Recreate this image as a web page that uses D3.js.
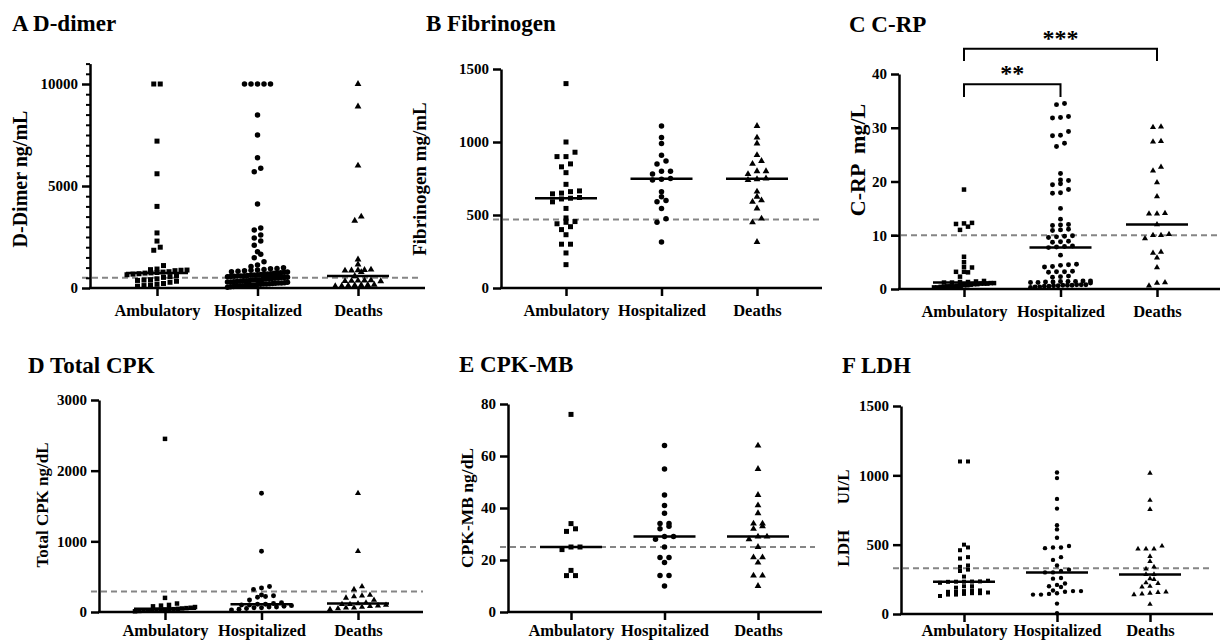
<!DOCTYPE html>
<html>
<head>
<meta charset="utf-8">
<script src="https://cdn.jsdelivr.net/npm/d3@7"></script>
<style>
  body { margin: 0; background: #fff; }
  svg { display: block; }
</style>
</head>
<body>
<svg width="1220" height="643"></svg>
<script>
// groups on every x axis
const groups = ["Ambulatory", "Hospitalized", "Deaths"];

// A D-dimer (ng/mL)
const dDimerAmbulatory = [10000, 10000, 7200, 5600, 4000, 2700, 2300, 2000, 1850, 1100, 930, 900, 880, 870, 850, 800, 780, 760, 740, 730, 700, 680, 650, 600, 560, 520, 450, 410, 390, 370, 330, 280, 220, 180, 150, 120, 90];
const dDimerHospitalized = [10000, 10000, 10000, 10000, 10000, 8480, 7500, 6390, 5870, 5700, 4120, 2940, 2840, 2600, 2450, 2300, 2100, 1780, 1660, 1480, 1290, 1130,
  1050, 990, 960, 940, 910, 880, 870, 850, 820, 800, 790, 770, 750, 730, 720, 700, 690, 670, 660, 650, 640, 620, 610, 600, 590, 590,
  580, 560, 550, 530, 520, 510, 490, 480, 470, 450, 440, 420, 410, 400, 390, 370, 360, 350, 330, 320, 310, 300, 290, 280, 260, 250,
  240, 230, 220, 210, 200, 190, 180, 170, 150, 140, 130, 120, 110, 100, 90, 70, 60, 40];
const dDimerDeaths = [10000, 8900, 6000, 3500, 3300, 1400, 1150, 900, 880, 870, 860, 850, 780, 590, 380, 370, 360, 350, 340, 330, 160, 150, 140, 130, 120, 100, 90];
const dDimerTicks = [0, 5000, 10000];
const dDimerRef = 500;

// B Fibrinogen (mg/mL)
const fibAmbulatory = [1400, 1000, 930, 900, 900, 850, 830, 790, 710, 665, 660, 650, 645, 620, 615, 610, 590, 545, 480, 455, 450, 440, 420, 400, 365, 300, 300, 240, 160];
const fibHospitalized = [1110, 1030, 990, 910, 870, 850, 800, 800, 780, 750, 745, 740, 660, 625, 600, 590, 545, 475, 450, 315];
const fibDeaths = [1110, 1030, 990, 910, 870, 850, 800, 800, 780, 750, 745, 740, 660, 625, 600, 590, 545, 475, 450, 315];
const fibTicks = [0, 500, 1000, 1500];
const fibRef = 470;

// C C-RP (mg/L)
const crpAmbulatory = [18.5, 12.3, 12.2, 12.1, 11.6, 11.0, 6.0, 5.0, 4.1, 4.0, 3.2, 3.2, 3.1, 2.3, 1.5, 1.4, 1.3, 1.3, 1.2, 1.2, 1.1, 1.1, 1.0, 1.0, 1.0,
  0.9, 0.9, 0.8, 0.7, 0.7, 0.6, 0.6, 0.5, 0.5, 0.5, 0.4, 0.4, 0.3, 0.3];
const crpHospitalized = [34.5, 34.3, 32.1, 31.9, 31.8, 29.3, 28.6, 28.5, 27.1, 26.5, 21.5, 20.3, 20.2, 19.6, 19.4, 18.5, 17.9, 17.8, 15.0, 13.0,
  12.0, 11.9, 11.8, 11.1, 11.0, 10.9, 9.9, 9.8, 9.7, 9.6, 8.9, 8.8, 8.7, 8.0, 7.9, 7.8, 7.7, 6.3, 4.6, 4.5, 4.4, 4.2, 4.1,
  3.3, 3.2, 3.2, 3.1, 2.4, 2.3, 2.2, 1.5, 1.5, 1.4, 1.4, 1.4, 1.3, 1.3, 1.2, 1.2, 1.1, 0.8, 0.8, 0.8, 0.7, 0.7, 0.7, 0.6, 0.6, 0.5, 0.5, 0.4, 0.4, 0.3];
const crpDeaths = [30.2, 30.1, 27.5, 27.4, 22.7, 22.0, 19.8, 17.2, 14.1, 14.0, 14.0, 12.0, 10.2, 10.0, 10.0, 9.4, 6.9, 6.7, 5.8, 4.0, 1.2, 1.1, 0.6];
const crpTicks = [0, 10, 20, 30, 40];
const crpRef = 10;
const crpBrackets = [
  { from: "Ambulatory", to: "Deaths", value: 44.7, drop: 42.4, label: "***" },
  { from: "Ambulatory", to: "Hospitalized", value: 38.1, drop: 35.7, label: "**" }
];

// D Total CPK (ng/dL)
const cpkAmbulatory = [2450, 200, 120, 100, 90, 80, 70, 60, 55, 50, 45, 40, 40, 35, 30, 30, 25, 20, 20, 15, 10];
const cpkHospitalized = [1680, 860, 360, 340, 320, 240, 230, 220, 210, 170, 130, 120, 110, 110, 100, 100, 90, 80, 70, 70, 60, 60, 50, 40, 30];
const cpkDeaths = [1680, 860, 360, 320, 240, 230, 220, 200, 170, 130, 120, 110, 110, 100, 90, 80, 70, 60, 60, 50, 40];
const cpkTicks = [0, 1000, 2000, 3000];
const cpkRef = 290;

// E CPK-MB (ng/dL)
const mbAmbulatory = [76, 34, 32, 31, 25, 25, 24, 16, 14, 14];
const mbHospitalized = [64, 55, 45, 41, 38, 34, 34, 33, 32, 29, 29, 28, 25, 21, 21, 19, 14, 14, 10];
const mbDeaths = [64, 55, 45, 41, 38, 34, 34, 33, 32, 29, 29, 28, 25, 21, 21, 19, 14, 14, 10];
const mbTicks = [0, 20, 40, 60, 80];
const mbRef = 25;

// F LDH (UI/L)
const ldhAmbulatory = [1100, 1100, 500, 480, 460, 410, 400, 350, 340, 320, 310, 270, 240, 235, 234, 233, 233, 232, 225, 200, 200, 190, 170, 170, 165, 160, 160, 155, 150, 150, 145, 140, 140, 130];
const ldhHospitalized = [1020, 980, 830, 760, 640, 610, 550, 490, 480, 480, 475, 410, 390, 350, 320, 310, 300, 300, 260, 255, 220, 210, 200, 195, 170, 165, 165, 160, 150, 145, 140, 140, 75, 5];
const ldhDeaths = [1015, 820, 755, 490, 470, 470, 470, 415, 380, 340, 325, 285, 285, 255, 250, 225, 220, 200, 195, 160, 155, 150, 145, 140, 70];
const ldhTicks = [0, 500, 1000, 1500];
const ldhRef = 330;

const FONT = '"Liberation Serif", "Times New Roman", serif';

// panel layout (pixels)
const panels = [
  { title: "A D-dimer", tx: 12, ty: 31, label: "D-Dimer ng/mL", lx: 27, ly: 179, lsize: 20,
    series: [dDimerAmbulatory, dDimerHospitalized, dDimerDeaths], ref: dDimerRef, ticks: dDimerTicks, minor: 500,
    yMax: 11000, y0: 288, yTop: 63.6, x0: 90, x1: 425, dashEnd: 420, cats: [157, 358], ms: 5, gap: 6.5, xPad: 8 },
  { title: "B Fibrinogen", tx: 426, ty: 31, label: "Fibrinogen mg/mL", lx: 426, ly: 179, lsize: 19,
    series: [fibAmbulatory, fibHospitalized, fibDeaths], ref: fibRef, ticks: fibTicks,
    yMax: 1500, y0: 288, yTop: 69, x0: 501, x1: 822, dashEnd: 823, cats: [566, 757], ms: 5, gap: 9, xPad: 8 },
  { title: "C C-RP", tx: 849, ty: 32, label: "C-RP  mg/L", lx: 865, ly: 160, lsize: 22,
    series: [crpAmbulatory, crpHospitalized, crpDeaths], ref: crpRef, ticks: crpTicks, brackets: crpBrackets,
    yMax: 40, y0: 289, yTop: 74, x0: 899, x1: 1220, dashEnd: 1220, cats: [964, 1157], ms: 4.5, gap: 8, xPad: 8 },
  { title: "D Total CPK", tx: 28, ty: 373, label: "Total CPK ng/dL", lx: 48, ly: 505, lsize: 17,
    series: [cpkAmbulatory, cpkHospitalized, cpkDeaths], ref: cpkRef, ticks: cpkTicks,
    yMax: 3000, y0: 612, yTop: 400, x0: 99, x1: 423, dashEnd: 423, cats: [165, 358], ms: 4.5, gap: 8, xPad: 4 },
  { title: "E CPK-MB", tx: 459, ty: 372, label: "CPK-MB ng/dL", lx: 473, ly: 508, lsize: 17.5,
    series: [mbAmbulatory, mbHospitalized, mbDeaths], ref: mbRef, ticks: mbTicks,
    yMax: 80, y0: 612, yTop: 404, x0: 508, x1: 822, dashEnd: 815, cats: [571, 758], ms: 5, gap: 9, xPad: 4 },
  { title: "F LDH", tx: 842, ty: 373, label: "LDH      UI/L", lx: 849, ly: 518, lsize: 17,
    series: [ldhAmbulatory, ldhHospitalized, ldhDeaths], ref: ldhRef, ticks: ldhTicks,
    yMax: 1500, y0: 614, yTop: 406, x0: 901, x1: 1213, dashEnd: 1210, cats: [964, 1150], ms: 4, gap: 8, xPad: 2 }
];

const shapes = [d3.symbolSquare, d3.symbolCircle, d3.symbolTriangle];
const shapeArea = [1, 0.95, 0.8];

// GraphPad-like scatter: points close in y share a row and are spread evenly
function spread(values, y, ms, gap, half) {
  const pts = values.map(v => ({ v, py: y(v) })).sort((a, b) => d3.descending(a.py, b.py));
  const rows = [];
  pts.forEach(p => {
    const r = rows[rows.length - 1];
    if (r && r.top - p.py < ms) r.items.push(p);
    else rows.push({ top: p.py, items: [p] });
  });
  rows.forEach(r => {
    const n = r.items.length;
    const step = n > 1 ? Math.min(gap, 2 * half / (n - 1)) : 0;
    r.items.forEach((p, i) => p.dx = (i - (n - 1) / 2) * step);
  });
  return pts;
}

const svg = d3.select("svg");

panels.forEach(p => {
  const g = svg.append("g");
  const y = d3.scaleLinear().domain([0, p.yMax]).range([p.y0, p.yTop]);
  const x = d3.scalePoint().domain(groups).range(p.cats);

  // title
  g.append("text")
    .attr("x", p.tx).attr("y", p.ty)
    .attr("font-family", FONT).attr("font-weight", "bold").attr("font-size", 23)
    .text(p.title);

  // y label
  g.append("text")
    .attr("transform", `translate(${p.lx},${p.ly}) rotate(-90)`)
    .attr("text-anchor", "middle")
    .attr("font-family", FONT).attr("font-weight", "bold").attr("font-size", p.lsize)
    .style("white-space", "pre")
    .text(p.label);

  // reference line
  g.append("line")
    .attr("x1", p.x0 - 8).attr("x2", p.dashEnd)
    .attr("y1", y(p.ref)).attr("y2", y(p.ref))
    .attr("stroke", "#858585").attr("stroke-width", 2)
    .attr("stroke-dasharray", "6,4");

  // points
  groups.forEach((grp, i) => {
    const pts = spread(p.series[i], y, p.ms, p.gap, 30);
    const sym = d3.symbol().type(shapes[i]).size(p.ms * p.ms * shapeArea[i]);
    g.append("g").selectAll("path")
      .data(pts)
      .join("path")
      .attr("d", sym)
      .attr("transform", d => `translate(${x(grp) + d.dx},${d.py})`)
      .attr("fill", "#000");

    // median
    const m = d3.median(p.series[i]);
    g.append("line")
      .attr("x1", x(grp) - 31).attr("x2", x(grp) + 31)
      .attr("y1", y(m)).attr("y2", y(m))
      .attr("stroke", "#000").attr("stroke-width", 2.5);
  });

  // y axis
  const yAxis = g.append("g")
    .attr("transform", `translate(${p.x0},0)`)
    .call(d3.axisLeft(y).tickValues(p.ticks).tickFormat(d3.format("d"))
      .tickSize(8).tickPadding(4).tickSizeOuter(0));
  if (p.minor) {
    g.append("g")
      .attr("transform", `translate(${p.x0},0)`)
      .call(d3.axisLeft(y).tickValues(d3.range(0, p.yMax + 1, p.minor).filter(v => !p.ticks.includes(v)))
        .tickSize(4).tickFormat("").tickSizeOuter(0))
      .call(a => a.select(".domain").remove())
      .selectAll("line").attr("stroke-width", 2);
  }
  yAxis.select(".domain").attr("stroke-width", 2.5);
  yAxis.selectAll(".tick line").attr("stroke-width", 2.5);
  yAxis.selectAll("text")
    .attr("font-family", FONT).attr("font-weight", "bold").attr("font-size", 15).attr("fill", "#000");

  // x axis
  g.append("line")
    .attr("x1", p.x0 - 1).attr("x2", p.x1)
    .attr("y1", p.y0).attr("y2", p.y0)
    .attr("stroke", "#000").attr("stroke-width", 2.5);
  const xAxis = g.append("g")
    .attr("transform", `translate(0,${p.y0})`)
    .call(d3.axisBottom(x).tickSize(8).tickPadding(p.xPad));
  xAxis.select(".domain").remove();
  xAxis.selectAll(".tick line").attr("stroke-width", 2.5);
  xAxis.selectAll("text")
    .attr("font-family", FONT).attr("font-weight", "bold").attr("font-size", 16.5).attr("fill", "#000");

  // significance brackets
  (p.brackets || []).forEach(b => {
    g.append("path")
      .attr("d", `M${x(b.from)},${y(b.drop)}V${y(b.value)}H${x(b.to)}V${y(b.drop)}`)
      .attr("fill", "none").attr("stroke", "#000").attr("stroke-width", 2);
    g.append("text")
      .attr("x", (x(b.from) + x(b.to)) / 2).attr("y", y(b.value) - 3)
      .attr("text-anchor", "middle")
      .attr("font-family", FONT).attr("font-weight", "bold").attr("font-size", 24)
      .text(b.label);
  });
});
</script>
</body>
</html>
